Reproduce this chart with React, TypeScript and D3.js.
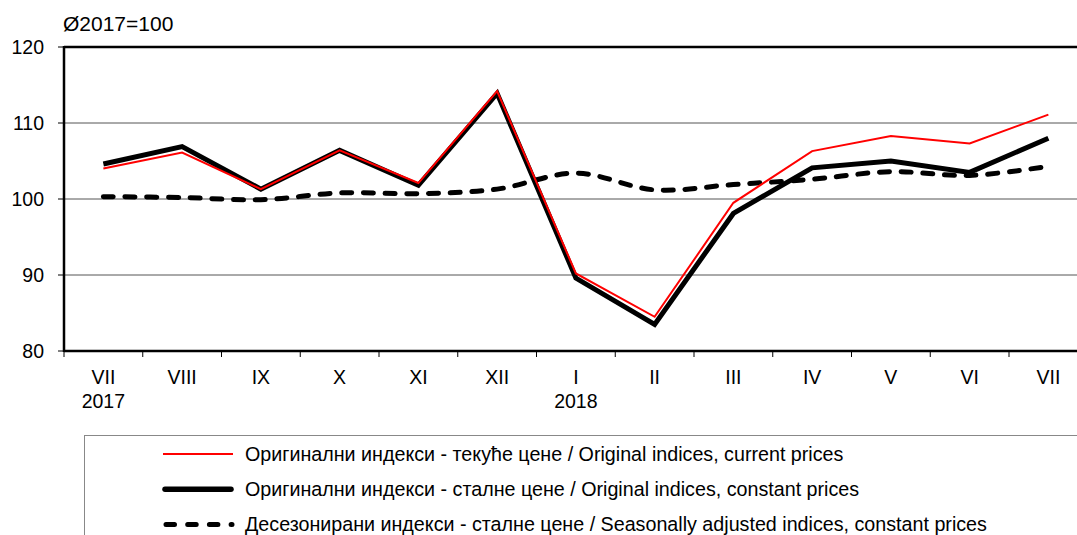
import React from "react";
import * as d3 from "d3";

const months = ["VII", "VIII", "IX", "X", "XI", "XII", "I", "II", "III", "IV", "V", "VI", "VII"];
const years = ["2017", "", "", "", "", "", "2018", "", "", "", "", "", ""];
const currentPrices = [104.0, 106.1, 101.3, 106.4, 102.1, 114.2, 90.2, 84.5, 99.5, 106.3, 108.3, 107.3, 111.1];
const constantPrices = [104.6, 106.9, 101.3, 106.4, 101.8, 113.9, 89.6, 83.5, 98.1, 104.1, 105.0, 103.5, 108.0];
const seasonallyAdjusted = [100.3, 100.2, 99.9, 100.8, 100.7, 101.3, 103.4, 101.2, 101.9, 102.6, 103.6, 103.1, 104.3];
const yTicks = [80, 90, 100, 110, 120];
const legendLabels = [
  "Оригинални индекси - текуће цене / Original indices, current prices",
  "Оригинални индекси - сталне цене / Original indices, constant prices",
  "Десезонирани индекси - сталне цене / Seasonally adjusted indices, constant prices",
];

const W = 1077;
const H = 535;
const left = 64;
const top = 47;
const bottom = 351;
const bandW = 78.75;
const FONT = "'Liberation Sans', Arial, sans-serif";

export default function App() {
  const x = d3
    .scaleBand<number>()
    .domain(months.map((_, i) => i))
    .range([left, left + bandW * months.length]);
  const y = d3.scaleLinear().domain([80, 120]).range([bottom, top]);
  const cx = (i: number) => (x(i) as number) + x.bandwidth() / 2;

  const line = d3
    .line<number>()
    .x((_, i) => cx(i))
    .y((d) => y(d));
  const smooth = d3
    .line<number>()
    .x((_, i) => cx(i))
    .y((d) => y(d))
    .curve(d3.curveCatmullRom.alpha(0.5));

  const right = left + bandW * months.length;

  return (
    <svg
      width={W}
      height={H}
      style={{ position: "absolute", left: 0, top: 0, display: "block" }}
      fontFamily={FONT}
    >
      <rect width={W} height={H} fill="#fff" />
      {/* gridlines */}
      {yTicks
        .filter((t) => t !== 80 && t !== 120)
        .map((t) => (
          <line key={t} x1={left} x2={right} y1={y(t)} y2={y(t)} stroke="#555" strokeWidth={1} />
        ))}
      {/* top border */}
      <line x1={left} x2={right} y1={y(120)} y2={y(120)} stroke="#000" strokeWidth={2.5} />
      {/* y ticks & labels */}
      {yTicks.map((t) => (
        <g key={"yt" + t}>
          <line x1={left - 6} x2={left} y1={y(t)} y2={y(t)} stroke="#000" strokeWidth={1} />
          <text x={44} y={y(t)} dy="0.35em" textAnchor="end" fontSize={19.5} fill="#000">
            {t}
          </text>
        </g>
      ))}
      <text x={63} y={31} fontSize={21} fill="#000">
        Ø2017=100
      </text>
      {/* x ticks */}
      {d3.range(months.length + 1).map((i) => (
        <line
          key={"xt" + i}
          x1={left + i * bandW}
          x2={left + i * bandW}
          y1={bottom}
          y2={bottom + 6}
          stroke="#000"
          strokeWidth={1}
        />
      ))}
      {months.map((m, i) => (
        <g key={"xl" + i}>
          <text x={cx(i)} y={384} textAnchor="middle" fontSize={19.5} fill="#000">
            {m}
          </text>
          {years[i] && (
            <text x={cx(i)} y={408} textAnchor="middle" fontSize={19.5} fill="#000">
              {years[i]}
            </text>
          )}
        </g>
      ))}
      {/* series */}
      <path
        d={smooth(seasonallyAdjusted) || ""}
        fill="none"
        stroke="#000"
        strokeWidth={5}
        strokeDasharray="10 11.7"
        strokeLinecap="round"
      />
      <path d={line(constantPrices) || ""} fill="none" stroke="#000" strokeWidth={5} strokeLinejoin="miter" />
      <path d={line(currentPrices) || ""} fill="none" stroke="#ff0000" strokeWidth={2} />
      {/* axes */}
      <line x1={left} x2={left} y1={top - 1} y2={bottom + 1} stroke="#000" strokeWidth={2.5} />
      <line x1={left} x2={right} y1={bottom} y2={bottom} stroke="#000" strokeWidth={2.5} />
      {/* legend */}
      <rect x={84.5} y={435.5} width={1100} height={200} fill="#fff" stroke="#888" strokeWidth={1} />
      {legendLabels.map((lab, i) => {
        const ly = 454 + i * 35.3;
        return (
          <g key={"lg" + i}>
            {i === 0 && <line x1={163} x2={233} y1={ly} y2={ly} stroke="#ff0000" strokeWidth={2} />}
            {i === 1 && (
              <line x1={165} x2={231} y1={ly} y2={ly} stroke="#000" strokeWidth={5.5} strokeLinecap="round" />
            )}
            {i === 2 && (
              <line
                x1={166}
                x2={232}
                y1={ly}
                y2={ly}
                stroke="#000"
                strokeWidth={5}
                strokeDasharray="8.5 13.2"
                strokeLinecap="round"
              />
            )}
            <text x={245} y={ly} dy="0.35em" fontSize={19.7} fill="#000">
              {lab}
            </text>
          </g>
        );
      })}
    </svg>
  );
}
